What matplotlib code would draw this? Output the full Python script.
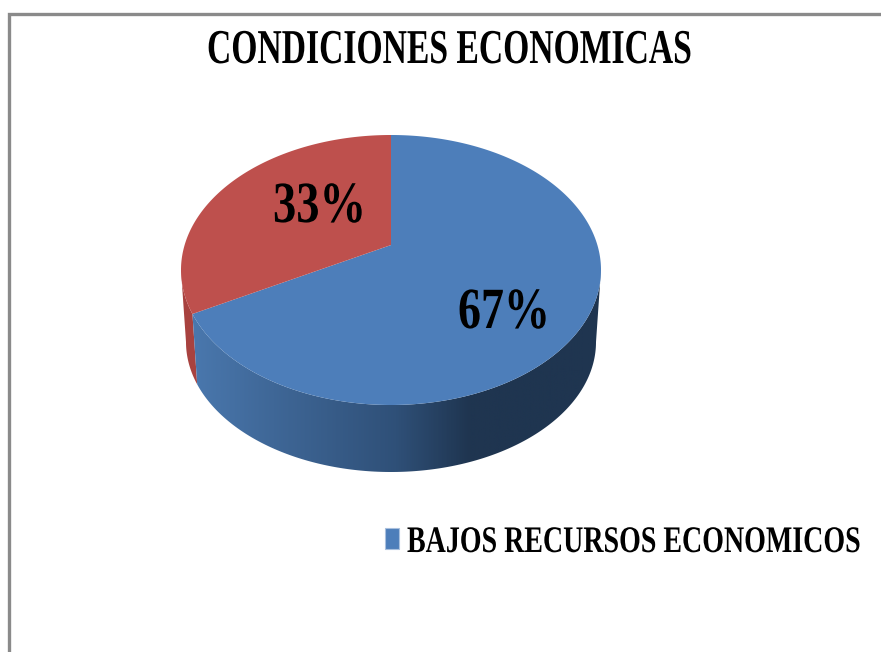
import numpy as np
import matplotlib
matplotlib.use("Agg")
import matplotlib.pyplot as plt
from matplotlib.patches import Polygon
from matplotlib.patheffects import AbstractPathEffect
from matplotlib.text import Text
from matplotlib.transforms import Affine2D, Bbox
from matplotlib.colors import LinearSegmentedColormap

title = "CONDICIONES ECONOMICAS"
legend_labels = ["BAJOS RECURSOS ECONOMICOS"]
values = [67, 33]
face_colors = ["#4D7EBA", "#BE504D"]

W, H = 881, 652
CX, CY, RX, RY = 391, 270, 210, 135
BX, BY_C, BRY = 205, 342, 130
K = 0.185
SERIF = "Liberation Serif"


class Rescale(AbstractPathEffect):
    """Rescale glyph outlines about a display anchor point."""
    def __init__(self, sx, sy, x0, y0):
        super().__init__()
        self.sx, self.sy, self.x0, self.y0 = sx, sy, x0, y0

    def draw_path(self, renderer, gc, tpath, affine, rgbFace=None):
        t = affine + Affine2D().translate(-self.x0, -self.y0).scale(self.sx, self.sy).translate(self.x0, self.y0)
        renderer.draw_path(gc, tpath, t, rgbFace)


def project(x, y):
    d = 1 + K * y
    return x * np.sqrt(1 - K ** 2) / d, (y + K) / d


def top_px(u, v):
    return CX + RX * u, CY - RY * v


fig = plt.figure(figsize=(W / 100, H / 100), dpi=100, facecolor="white")
ax = fig.add_axes([0, 0, 1, 1])
ax.set_xlim(0, W)
ax.set_ylim(H, 0)
ax.axis("off")

# chart frame
ax.plot([W + 5, 9, 9], [13.5, 13.5, H + 5], color="#8A8A8A", lw=2.4, solid_joinstyle="miter", zorder=1)

# slice angles, clockwise from the top
fractions = np.array(values, float) / sum(values)
edges = np.pi / 2 - 2 * np.pi * np.concatenate([[0], np.cumsum(fractions)])

bx, by = project(np.cos(edges[1]), np.sin(edges[1]))
boundary = np.arctan2(by, bx) % (2 * np.pi)  # screen angle of blue/red edge


def band(a0, a1):
    a = np.linspace(a0, a1, 200)
    top = np.c_[CX + RX * np.cos(a), CY - RY * np.sin(a)]
    bot = np.c_[CX + BX * np.cos(a), BY_C - BRY * np.sin(a)]
    return np.vstack([top, bot[::-1]])


# red side
red_side = Polygon(band(np.pi, boundary), closed=True, fc="#A8423F", ec="none", zorder=2)
ax.add_patch(red_side)

# blue side with horizontal gradient
poly = Polygon(band(boundary, 2 * np.pi), closed=True, fc="none", ec="none", zorder=3)
ax.add_patch(poly)
cmap = LinearSegmentedColormap.from_list(
    "side", [(0, "#4A78AE"), (0.2, "#3F6797"), (0.5, "#2F5078"), (0.68, "#1F3550"), (1, "#1F3550")])
grad = np.linspace(0, 1, 420)[None, :]
im = ax.imshow(grad, cmap=cmap, extent=(190, 602, 480, 260), aspect="auto", zorder=3, vmin=0, vmax=1)
im.set_clip_path(poly)
ax.set_xlim(0, W)
ax.set_ylim(H, 0)

# top faces
for i, c in enumerate(face_colors):
    t = np.linspace(edges[i], edges[i + 1], 300)
    u, v = project(np.cos(t), np.sin(t))
    au, av = project(0.0, 0.0)
    px, py = top_px(np.r_[au, u], np.r_[av, v])
    ax.fill(px, py, color=c, lw=0, zorder=4)

fig.canvas.draw()
rend = fig.canvas.get_renderer()


def squeezed(x_left, x_right, y_base, text, size, sy=1.0):
    """Text at nominal `size`, drawn to span x_left..x_right and sy times as tall."""
    xc = 0.5 * (x_left + x_right)
    t = ax.text(xc, y_base, text, family=SERIF, weight="bold", fontsize=size,
                ha="center", va="baseline", color="black", zorder=6)
    natural = t.get_window_extent(rend).width
    t.set_path_effects([Rescale((x_right - x_left) / natural, sy, xc, H - y_base)])
    return t


squeezed(207, 692, 63, title, 35)
squeezed(273, 366, 222, f"{values[1]}%", 42)
squeezed(458, 550, 328, f"{values[0]}%", 42)

# legend
ax.add_patch(Polygon([[385, 528], [399, 528], [399, 549], [385, 549]], closed=True,
                     fc=face_colors[0], ec="#A9C0DE", lw=0.8, zorder=5))
squeezed(407, 862, 552, legend_labels[0], 18.5, sy=27 / 18.5)

fig.savefig("out.png", dpi=100, facecolor="white")
